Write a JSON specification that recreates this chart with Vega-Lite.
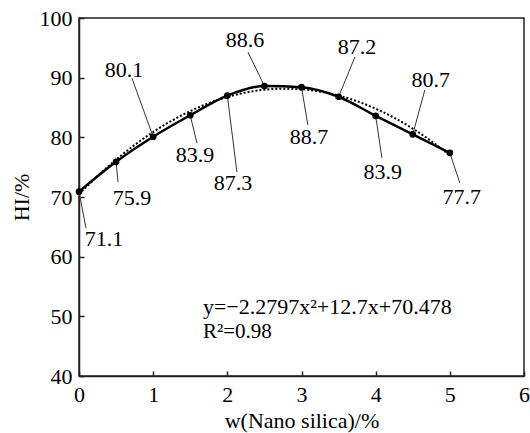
{
  "$schema": "https://vega.github.io/schema/vega-lite/v6.json",
  "width": 445,
  "height": 358,
  "autosize": {"type": "none"},
  "padding": {"left": 79, "top": 18, "right": 6, "bottom": 57},
  "background": "white",
  "config": {
    "view": {"stroke": "#222", "strokeWidth": 1.5},
    "font": "Liberation Serif",
    "axis": {
      "domainColor": "#222", "domainWidth": 1.5,
      "tickColor": "#222", "tickWidth": 1.5, "tickSize": -5,
      "labelFont": "Liberation Serif", "labelFontSize": 22, "labelColor": "black",
      "titleFont": "Liberation Serif", "titleFontSize": 22, "titleFontWeight": "normal", "titleColor": "black",
      "grid": false
    }
  },
  "datasets": {
    "obs": [
      {"x": 0, "hi": 70.9, "label": "71.1", "ex": 0.094, "ey": 64.8, "lx": 0.337, "ly": 62.96},
      {"x": 0.5, "hi": 75.9, "label": "75.9", "ex": 0.526, "ey": 72.5, "lx": 0.714, "ly": 69.8},
      {"x": 1, "hi": 80.1, "label": "80.1", "ex": 0.714, "ey": 89.9, "lx": 0.606, "ly": 91.3},
      {"x": 1.5, "hi": 83.7, "label": "83.9", "ex": 1.59, "ey": 79.05, "lx": 1.563, "ly": 77.0},
      {"x": 2, "hi": 87.0, "label": "87.3", "ex": 2.129, "ey": 74.2, "lx": 2.075, "ly": 72.35},
      {"x": 2.5, "hi": 88.6, "label": "88.6", "ex": 2.278, "ey": 94.3, "lx": 2.237, "ly": 96.3},
      {"x": 3, "hi": 88.4, "label": "88.7", "ex": 3.086, "ey": 82.07, "lx": 3.1, "ly": 80.06},
      {"x": 3.5, "hi": 86.8, "label": "87.2", "ex": 3.72, "ey": 93.46, "lx": 3.747, "ly": 95.14},
      {"x": 4, "hi": 83.6, "label": "83.9", "ex": 4.084, "ey": 76.54, "lx": 4.097, "ly": 74.19},
      {"x": 4.5, "hi": 80.5, "label": "80.7", "ex": 4.663, "ey": 87.93, "lx": 4.744, "ly": 89.61},
      {"x": 5, "hi": 77.4, "label": "77.7", "ex": 5.135, "ey": 72.35, "lx": 5.162, "ly": 70.0}
    ],
    "fit": [
      {"x": 0, "y": 70.478}, {"x": 0.25, "y": 73.511}, {"x": 0.5, "y": 76.258}, {"x": 0.75, "y": 78.721},
      {"x": 1, "y": 80.898}, {"x": 1.25, "y": 82.791}, {"x": 1.5, "y": 84.399}, {"x": 1.75, "y": 85.721},
      {"x": 2, "y": 86.759}, {"x": 2.25, "y": 87.512}, {"x": 2.5, "y": 87.98}, {"x": 2.75, "y": 88.163},
      {"x": 3, "y": 88.061}, {"x": 3.25, "y": 87.674}, {"x": 3.5, "y": 87.002}, {"x": 3.75, "y": 86.045},
      {"x": 4, "y": 84.803}, {"x": 4.25, "y": 83.276}, {"x": 4.5, "y": 81.464}, {"x": 4.75, "y": 79.367},
      {"x": 5, "y": 76.986}
    ]
  },
  "layer": [
    {
      "data": {"name": "fit"},
      "mark": {"type": "line", "interpolate": "monotone", "strokeDash": [2, 2], "strokeWidth": 2, "color": "black"},
      "encoding": {
        "x": {"field": "x", "type": "quantitative", "scale": {"domain": [0, 6], "nice": false},
          "axis": {"values": [0, 1, 2, 3, 4, 5, 6], "format": "d", "title": "w(Nano silica)/%", "labelPadding": 13, "titlePadding": 5, "labelFlush": false}},
        "y": {"field": "y", "type": "quantitative", "scale": {"domain": [40, 100], "nice": false, "zero": false},
          "axis": {"values": [40, 50, 60, 70, 80, 90, 100], "format": "d", "title": "HI/%", "labelPadding": 12, "titlePadding": 6, "labelFlush": false}}
      }
    },
    {
      "data": {"name": "obs"},
      "mark": {"type": "line", "interpolate": "monotone", "strokeWidth": 2.5, "color": "black"},
      "encoding": {
        "x": {"field": "x", "type": "quantitative"},
        "y": {"field": "hi", "type": "quantitative"}
      }
    },
    {
      "data": {"name": "obs"},
      "mark": {"type": "rule", "strokeWidth": 1, "color": "#333"},
      "encoding": {
        "x": {"field": "x", "type": "quantitative"},
        "y": {"field": "hi", "type": "quantitative"},
        "x2": {"field": "ex"},
        "y2": {"field": "ey"}
      }
    },
    {
      "data": {"name": "obs"},
      "mark": {"type": "point", "filled": true, "size": 45, "color": "black", "opacity": 1},
      "encoding": {
        "x": {"field": "x", "type": "quantitative"},
        "y": {"field": "hi", "type": "quantitative"}
      }
    },
    {
      "data": {"name": "obs"},
      "mark": {"type": "text", "fontSize": 22, "font": "Liberation Serif", "align": "center", "baseline": "middle", "color": "black"},
      "encoding": {
        "x": {"field": "lx", "type": "quantitative"},
        "y": {"field": "ly", "type": "quantitative"},
        "text": {"field": "label"}
      }
    },
    {
      "data": {"values": [{}]},
      "mark": {"type": "text", "fontSize": 22, "font": "Liberation Serif", "align": "left", "baseline": "alphabetic", "color": "black"},
      "encoding": {
        "x": {"datum": 1.671, "type": "quantitative"},
        "y": {"datum": 50.4, "type": "quantitative"},
        "text": {"value": "y=−2.2797x²+12.7x+70.478"}
      }
    },
    {
      "data": {"values": [{}]},
      "mark": {"type": "text", "fontSize": 21, "font": "Liberation Serif", "align": "left", "baseline": "alphabetic", "color": "black"},
      "encoding": {
        "x": {"datum": 1.671, "type": "quantitative"},
        "y": {"datum": 46.3, "type": "quantitative"},
        "text": {"value": "R²=0.98"}
      }
    }
  ]
}
